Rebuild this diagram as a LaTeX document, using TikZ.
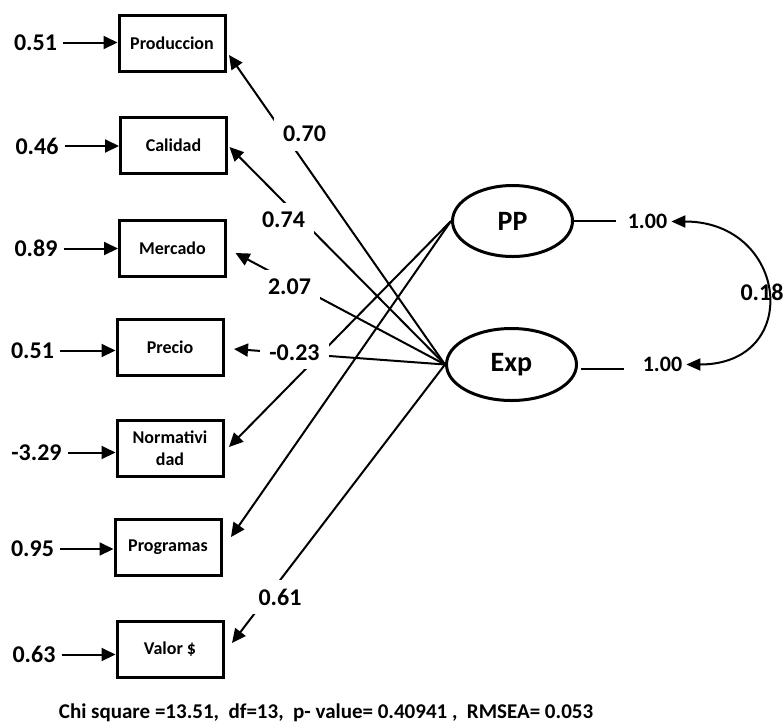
\documentclass[tikz,border=0pt]{standalone}
\usepackage{fontspec}
\setmainfont{Carlito}
\usetikzlibrary{arrows.meta,shapes.geometric,calc}
\begin{document}
\begin{tikzpicture}[x=1pt,y=-1pt,
  ind/.style={draw, line width=3pt, minimum width=106pt, minimum height=56pt, inner sep=0pt,
    font=\fontsize{18}{22}\selectfont\bfseries, align=center},
  lat/.style={draw, ellipse, line width=3pt, inner sep=0pt, font=\fontsize{28}{32}\selectfont\bfseries},
  errlab/.style={inner sep=0pt, font=\fontsize{24}{28}\selectfont\bfseries},
  loadlab/.style={fill=white, inner xsep=9pt, inner ysep=9pt, font=\fontsize{24}{28}\selectfont\bfseries},
  varlab/.style={inner sep=0pt, font=\fontsize{22}{26}\selectfont\bfseries},
  tipend/.style={-{Triangle[length=14pt,width=13pt]}},
  conn/.style={line width=2pt, tipend},
  errarr/.style={line width=2pt, tipend, shorten <=6pt},
  plain/.style={line width=2pt},
]
\useasboundingbox (0,0) rectangle (784,724);

% indicator boxes
\node[ind] (prod) at (172,43.5) {Produccion};
\node[ind] (cal)  at (173.5,145) {Calidad};
\node[ind] (merc) at (172.5,248) {Mercado};
\node[ind] (prec) at (170,347.5) {Precio};
\node[ind] (norm) at (170,448.5) {Normativi\\dad};
\node[ind] (prog) at (168,547) {Programas};
\node[ind] (val)  at (170,649.5) {Valor \$};

% latent variables
\node[lat, minimum width=120pt, minimum height=71pt] (pp)  at (512.5,221) {PP};
\node[lat, minimum width=130pt, minimum height=72pt] (exp) at (511.5,364.5) {Exp};

% error terms
\node[errlab] (e1) at (35.5,42.5) {0.51};
\node[errlab] (e2) at (37,146) {0.46};
\node[errlab] (e3) at (36,248.5) {0.89};
\node[errlab] (e4) at (32.5,350.5) {0.51};
\node[errlab] (e5) at (36.5,452.5) {-3.29};
\node[errlab] (e6) at (32.5,549) {0.95};
\node[errlab] (e7) at (34,654.5) {0.63};

\draw[errarr] (e1.east) -- (e1.east -| prod.west);
\draw[errarr] (e2.east) -- (e2.east -| cal.west);
\draw[errarr] (e3.east) -- (e3.east -| merc.west);
\draw[errarr] (e4.east) -- (e4.east -| prec.west);
\draw[errarr] (e5.east) -- (e5.east -| norm.west);
\draw[errarr] (e6.east) -- (e6.east -| prog.west);
\draw[errarr] (e7.east) -- (e7.east -| val.west);

% loadings
\draw[conn] (exp.west) -- ([shift={(2.5pt,-11.5pt)}]prod.east);
\draw[conn] (exp.west) -- ([shift={(1.5pt,-2pt)}]cal.east);
\draw[conn] (exp.west) -- ([shift={(8.5pt,-5pt)}]merc.east);
\draw[conn] (exp.west) -- ([shift={(9.5pt,-1.5pt)}]prec.east);
\draw[conn] (pp.west)  -- ([shift={(4.5pt,1.5pt)}]norm.east);
\draw[conn] (pp.west)  -- ([shift={(8.5pt,10pt)}]prog.east);
\draw[conn] (exp.west) -- ([shift={(7.5pt,6.5pt)}]val.east);

% loading labels
\node[loadlab] (l1) at (304.5,134) {0.70};
\node[loadlab] (l2) at (283.5,220) {0.74};
\node[loadlab] (l3) at (289.5,286.5) {2.07};
\node[loadlab] (l4) at (294.5,352.5) {-0.23};
\node[loadlab] (l5) at (280,597) {0.61};

% variances and covariance
\node[varlab] (pp1)  at (647.5,221.5) {1.00};
\node[varlab] (exp1) at (662.5,364.5) {1.00};
\draw[plain, shorten >=12pt] (pp.east) -- (pp.east -| pp1.west);
\draw[plain] ([shift={(3pt,-4pt)}]exp.east) -- ([shift={(-19pt,-4pt)}]exp1.west);
\node[errlab] (cov) at (762,292) {0.18};
\draw[plain, {Triangle[length=14pt,width=12pt]}-{Triangle[length=14pt,width=12pt]}]
  ([xshift=4pt]pp1.east) .. controls +(117,0) and +(117,0) .. ([xshift=4pt]exp1.east);

% fit statistics
\node[font=\fontsize{21}{25}\selectfont\bfseries, anchor=base, inner sep=0pt] (fit) at (326,718)
  {Chi square =13.51,\ \ df=13,\ \ p- value= 0.40941 ,\ \ RMSEA= 0.053};
\end{tikzpicture}
\end{document}
